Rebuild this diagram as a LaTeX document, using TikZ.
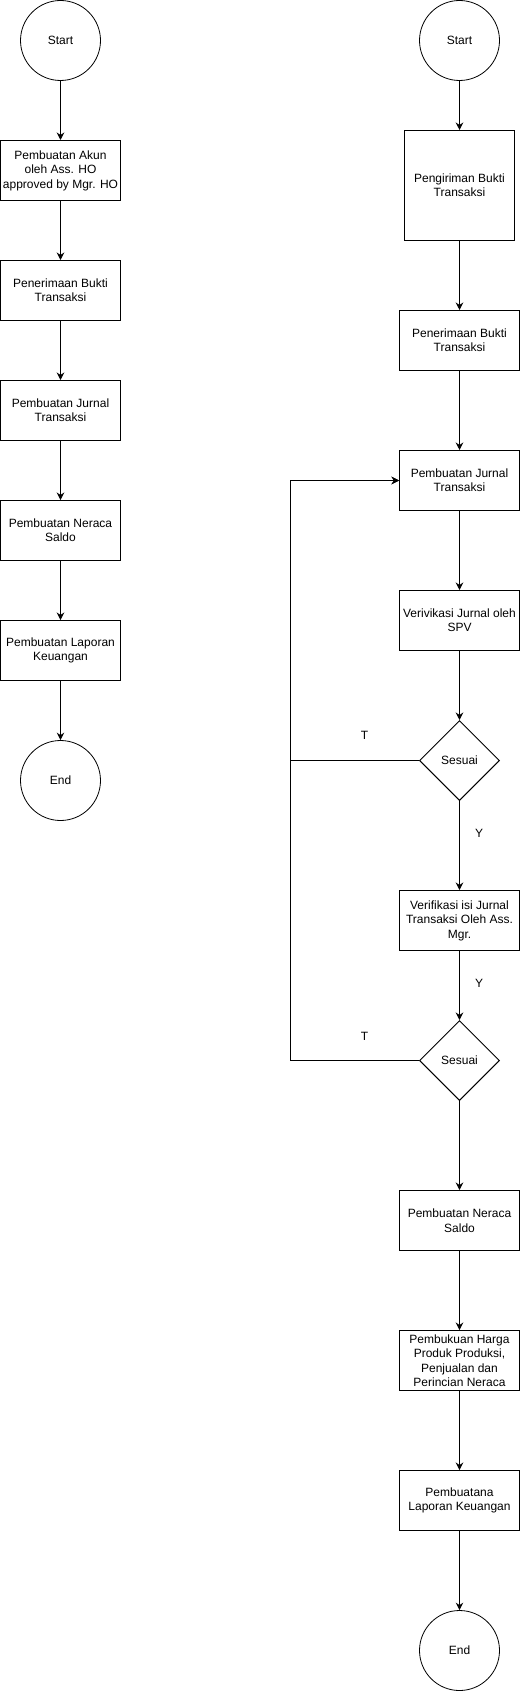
\documentclass[tikz,border=0pt]{standalone}
\usepackage{fontspec}
\setmainfont{Liberation Sans}
\usetikzlibrary{positioning}
\usetikzlibrary{arrows.meta}
\usetikzlibrary{shapes.geometric}
\tikzset{>={Stealth[length=7.5pt, width=7.5pt, inset=2.5pt]}}
\tikzset{proc/.style={draw, line width=1pt, rectangle, minimum width=120pt, minimum height=60pt, inner sep=0pt, align=center}}
\tikzset{term/.style={draw, line width=0.8pt, circle, minimum size=80pt, inner sep=0pt}}
\tikzset{dec/.style={draw, line width=1pt, diamond, minimum width=80pt, minimum height=80pt, inner sep=0pt}}
\tikzset{flow/.style={->, line width=1pt}}
\tikzset{lbl/.style={inner sep=0pt}}

\begin{document}
\begin{tikzpicture}[x=1pt, y=-1pt, font=\fontsize{12pt}{14.4pt}\selectfont]
\useasboundingbox (0,0) rectangle (520,1691);

\node[term] (s1) at (60.5, 40.5) {Start};
\node[proc] (a1) at (60.5, 170.5) {Pembuatan Akun\\oleh Ass. HO\\approved by Mgr. HO};
\node[proc] (a2) at (60.5, 290.5) {Penerimaan Bukti\\Transaksi};
\node[proc] (a3) at (60.5, 410.5) {Pembuatan Jurnal\\Transaksi};
\node[proc] (a4) at (60.5, 530.5) {Pembuatan Neraca\\Saldo};
\node[proc] (a5) at (60.5, 650.5) {Pembuatan Laporan\\Keuangan};
\node[term] (e1) at (60.5, 780.5) {End};

\draw[flow] (s1) -- (a1);
\draw[flow] (a1) -- (a2);
\draw[flow] (a2) -- (a3);
\draw[flow] (a3) -- (a4);
\draw[flow] (a4) -- (a5);
\draw[flow] (a5) -- (e1);

\node[term] (s2) at (459.5, 40.5) {Start};
\node[proc, minimum width=110pt, minimum height=110pt] (b1) at (459.5, 185.5) {Pengiriman Bukti\\Transaksi};
\node[proc] (b2) at (459.5, 340.5) {Penerimaan Bukti\\Transaksi};
\node[proc] (b3) at (459.5, 480.5) {Pembuatan Jurnal\\Transaksi};
\node[proc] (b4) at (459.5, 620.5) {Verivikasi Jurnal oleh\\SPV};
\node[dec] (d1) at (459.5, 760.5) {Sesuai};
\node[proc] (b5) at (459.5, 920.5) {Verifikasi isi Jurnal\\Transaksi Oleh Ass.\\Mgr.};
\node[dec] (d2) at (459.5, 1060.5) {Sesuai};
\node[proc] (b6) at (459.5, 1220.5) {Pembuatan Neraca\\Saldo};
\node[proc] (b7) at (459.5, 1360.5) {Pembukuan Harga\\Produk Produksi,\\Penjualan dan\\Perincian Neraca};
\node[proc] (b8) at (459.5, 1500.5) {Pembuatana\\Laporan Keuangan};
\node[term] (e2) at (459.5, 1650.5) {End};

\node[lbl] (t1) at (364.5, 735) {T};
\node[lbl] (y1) at (479, 833) {Y};
\node[lbl] (y2) at (479, 983) {Y};
\node[lbl] (t2) at (364.5, 1036) {T};

\coordinate (loop) at (290, 0);

\draw[flow] (s2) -- (b1);
\draw[flow] (b1) -- (b2);
\draw[flow] (b2) -- (b3);
\draw[flow] (b3) -- (b4);
\draw[flow] (b4) -- (d1);
\draw[flow] (d1) -- (b5);
\draw[flow] (b5) -- (d2);
\draw[flow] (d2) -- (b6);
\draw[flow] (b6) -- (b7);
\draw[flow] (b7) -- (b8);
\draw[flow] (b8) -- (e2);

\draw[flow] (d1.west) -- (d1.west -| loop) |- (b3.west);
\draw[flow] (d2.west) -- (d2.west -| loop) |- (b3.west);

\end{tikzpicture}
\end{document}
